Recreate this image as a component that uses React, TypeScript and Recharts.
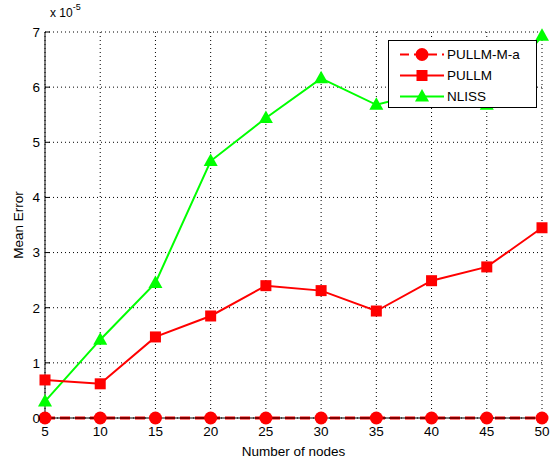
import React from 'react';
import { LineChart, Line, XAxis, YAxis, CartesianGrid, Legend } from 'recharts';

const nodes = [5, 10, 15, 20, 25, 30, 35, 40, 45, 50];
// values in units of 1e-5
const pullmMa = [0, 0, 0, 0, 0, 0, 0, 0, 0, 0];
const pullm = [0.69, 0.62, 1.47, 1.85, 2.4, 2.31, 1.94, 2.49, 2.74, 3.45];
const nliss = [0.3, 1.42, 2.45, 4.66, 5.44, 6.16, 5.68, 5.93, 5.68, 6.93];
const yTicks = [0, 1, 2, 3, 4, 5, 6, 7];

const RED = '#ff0000';
const GREEN = '#00ff00';
const FONT = 'Arial, "Liberation Sans", Helvetica, sans-serif';

const data = nodes.map((n, i) => ({ n, pullmMa: pullmMa[i], pullm: pullm[i], nliss: nliss[i] }));

const Circle = (p: any) => <circle key={p.index} cx={p.cx} cy={p.cy} r={6.5} fill={RED} />;
const Square = (p: any) => <rect key={p.index} x={p.cx - 5.5} y={p.cy - 5.5} width={11} height={11} fill={RED} />;
const Tri = (p: any) => (
  <path key={p.index} d={`M${p.cx},${p.cy - 7.5} L${p.cx + 7},${p.cy + 5} L${p.cx - 7},${p.cy + 5} Z`} fill={GREEN} />
);

const legendItems = [
  { name: 'PULLM-M-a', color: RED, dash: '9 5', marker: 'circle' },
  { name: 'PULLM', color: RED, dash: undefined, marker: 'square' },
  { name: 'NLISS', color: GREEN, dash: undefined, marker: 'triangle' },
];

const LegendBox = () => (
  <div style={{ width: 147, height: 66, border: '1px solid #000', background: '#fff', fontFamily: FONT, fontSize: 13.5 }}>
    {legendItems.map((it, i) => (
      <div key={it.name} style={{ display: 'flex', alignItems: 'center', height: 21, marginTop: i === 0 ? 3 : 0 }}>
        <svg width={58} height={21}>
          <line x1={11} x2={55} y1={10.5} y2={10.5} stroke={it.color} strokeWidth={2} strokeDasharray={it.dash} />
          {it.marker === 'circle' && <circle cx={33} cy={10.5} r={6.5} fill={it.color} />}
          {it.marker === 'square' && <rect x={27.5} y={5} width={11} height={11} fill={it.color} />}
          {it.marker === 'triangle' && <path d="M33,3 L40,15.5 L26,15.5 Z" fill={it.color} />}
        </svg>
        <span style={{ color: '#000' }}>{it.name}</span>
      </div>
    ))}
  </div>
);

export default function App() {
  const tickStyle = { fill: '#000', fontSize: 13.5, fontFamily: FONT };
  return (
    <div style={{ position: 'absolute', left: 0, top: 0, width: 555, height: 465, background: '#fff' }}>
      <div style={{ position: 'absolute', left: 50, top: 4, fontFamily: FONT, fontSize: 12, color: '#000' }}>
        x 10<sup style={{ fontSize: 9, position: 'relative', top: -2 }}>-5</sup>
      </div>
      <LineChart width={555} height={465} data={data} margin={{ top: 32, right: 13, bottom: 0, left: 0 }}>
        <CartesianGrid xAxisId={0} yAxisId={0} stroke="#000" strokeWidth={1} strokeDasharray="1 3" />
        <XAxis
          xAxisId={0}
          dataKey="n"
          type="number"
          domain={[5, 50]}
          ticks={nodes}
          height={47}
          tickSize={-5}
          tickMargin={13}
          tick={tickStyle}
          stroke="#000"
          tickLine={{ stroke: '#000' }}
          axisLine={{ stroke: '#000' }}
          label={{ value: 'Number of nodes', position: 'insideBottom', offset: 9, fill: '#000', fontSize: 13.5, fontFamily: FONT }}
        />
        <XAxis
          xAxisId="top"
          orientation="top"
          dataKey="n"
          type="number"
          domain={[5, 50]}
          ticks={nodes}
          height={0}
          tickSize={-5}
          tick={false}
          tickLine={{ stroke: '#000' }}
          axisLine={{ stroke: '#000' }}
        />
        <YAxis
          yAxisId={0}
          type="number"
          domain={[0, 7]}
          ticks={yTicks}
          width={45}
          tickSize={-5}
          tickMargin={10}
          tick={tickStyle}
          tickLine={{ stroke: '#000' }}
          axisLine={{ stroke: '#000' }}
          label={(props: any) => {
            const vb = props.viewBox || {};
            const cx = 18;
            const cy = (vb.y ?? 32) + (vb.height ?? 386) / 2;
            return (
              <text x={cx} y={cy} transform={`rotate(-90, ${cx}, ${cy})`} textAnchor="middle" dominantBaseline="central" fill="#000" fontSize={13.5} fontFamily={FONT}>
                Mean Error
              </text>
            );
          }}
        />
        <YAxis
          yAxisId="right"
          orientation="right"
          type="number"
          domain={[0, 7]}
          ticks={yTicks}
          width={0}
          tickSize={-5}
          tick={false}
          tickLine={{ stroke: '#000' }}
          axisLine={{ stroke: '#000' }}
        />
        <Legend
          layout="vertical"
          align="center"
          verticalAlign="middle"
          wrapperStyle={{ position: 'absolute', left: 388, top: 40, width: 149, height: 68 }}
          content={() => <LegendBox />}
        />
        <Line xAxisId={0} yAxisId={0} dataKey="nliss" name="NLISS" stroke={GREEN} strokeWidth={2} dot={Tri} isAnimationActive={false} />
        <Line xAxisId={0} yAxisId={0} dataKey="pullm" name="PULLM" stroke={RED} strokeWidth={2} dot={Square} isAnimationActive={false} />
        <Line xAxisId={0} yAxisId={0} dataKey="pullmMa" name="PULLM-M-a" stroke={RED} strokeWidth={3} strokeDasharray="10 5" dot={Circle} isAnimationActive={false} />
      </LineChart>
    </div>
  );
}
